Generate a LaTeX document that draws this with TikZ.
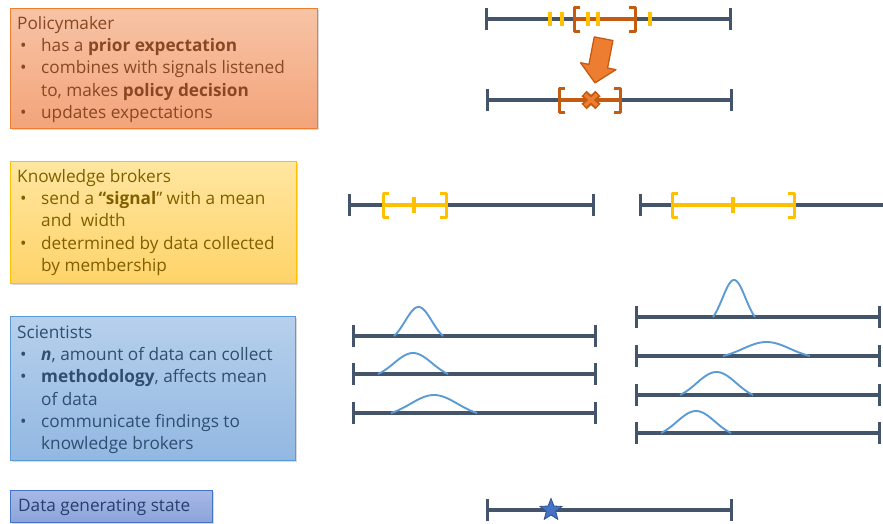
\documentclass[tikz,border=0pt]{standalone}
\usepackage{fontspec}
\setmainfont{Open Sans}
\usetikzlibrary{arrows.meta,shapes.geometric,shadows}

\definecolor{axisgray}{HTML}{44546A}
\definecolor{orangedark}{HTML}{C55A11}
\definecolor{orangemid}{HTML}{ED7D31}
\definecolor{gold}{HTML}{FFC000}
\definecolor{curveblue}{HTML}{5B9BD5}
\definecolor{starblue}{HTML}{4472C4}
\definecolor{stardark}{HTML}{2F528F}
\definecolor{pmtop}{HTML}{F7C4A6}
\definecolor{pmbot}{HTML}{F3A47A}
\definecolor{pmtext}{HTML}{8A4724}
\definecolor{kbtop}{HTML}{FFE6A0}
\definecolor{kbbot}{HTML}{FFD369}
\definecolor{kbtext}{HTML}{7F6000}
\definecolor{sctop}{HTML}{B7D0EC}
\definecolor{scbot}{HTML}{92B8E2}
\definecolor{sctext}{HTML}{2F4E70}
\definecolor{dgtop}{HTML}{A7B9E4}
\definecolor{dgbot}{HTML}{8DA3DA}
\definecolor{dgtext}{HTML}{263F6E}

\newcommand{\itm}{\makebox[24pt][l]{\hspace{3pt}\textbullet}}
\newcommand{\cnt}{\hspace*{24pt}}

\tikzset{
  box/.style={draw, line width=1pt, inner sep=0pt,
    drop shadow={opacity=0.3, shadow xshift=2pt, shadow yshift=-2pt}},
  pmbox/.style={box, draw=orangemid, top color=pmtop, bottom color=pmbot},
  kbbox/.style={box, draw=gold, top color=kbtop, bottom color=kbbot},
  scbox/.style={box, draw=curveblue, top color=sctop, bottom color=scbot},
  dgbox/.style={box, draw=starblue, top color=dgtop, bottom color=dgbot},
  boxtext/.style={anchor=north west, inner sep=0pt, align=left,
    font=\fontsize{17.2}{22.3}\selectfont},
  axis/.style={draw=axisgray, line width=3.2pt},
  ends/.style={axis, {Bar[width=22pt]}-{Bar[width=22pt]}},
  spanline/.style={line width=3.5pt},
  goldtick/.style={draw=gold, line width=4.2pt},
  bell/.style={draw=curveblue, line width=1.9pt},
  lbrk/.pic={\draw[pic actions, line width=3pt, line join=round] (6,-12) -- (0,-12) -- (0,12) -- (6,12);},
  rbrk/.pic={\draw[pic actions, line width=3pt, line join=round] (-6,-12) -- (0,-12) -- (0,12) -- (-6,12);}
}

\begin{document}
\begin{tikzpicture}[x=1pt, y=-1pt]
  \useasboundingbox (0,0) rectangle (883,523);

  % boxes on the left
  \node (pm) [pmbox, minimum width=307pt, minimum height=120pt] at (163.5,68) {};
  \node (kb) [kbbox, minimum width=286pt, minimum height=122pt] at (153,222) {};
  \node (sc) [scbox, minimum width=285pt, minimum height=144pt] at (152.5,388) {};
  \node (dg) [dgbox, minimum width=202pt, minimum height=32pt] at (111,506) {};

  \node (pmt) [boxtext, text=pmtext] at (17,16) {Policymaker\\
    \itm has a \textbf{prior expectation}\\
    \itm combines with signals listened\\
    \cnt to, makes \textbf{policy decision}\\
    \itm updates expectations};
  \node (kbt) [boxtext, text=kbtext] at (17,169) {Knowledge brokers\\
    \itm send a \textbf{“signal}” with a mean\\
    \cnt and\ \ width\\
    \itm determined by data collected\\
    \cnt by membership};
  \node (sct) [boxtext, text=sctext] at (17,325.5) {Scientists\\
    \itm \textbf{\textit{n}}, amount of data can collect\\
    \itm \textbf{methodology}, affects mean\\
    \cnt of data\\
    \itm communicate findings to\\
    \cnt knowledge brokers};
  \node (dgt) [anchor=base west, inner sep=0pt, text=dgtext,
    font=\fontsize{17.2}{20}\selectfont] at (18,511) {Data generating state};

  % policymaker: prior and decision
  \coordinate (pa) at (485,19);
  \coordinate (pb) at (732,19);
  \draw[ends] (pa) -- (pb);
  \foreach \x in {550,562,650}
    \draw[goldtick] (\x,12) -- (\x,26);
  \coordinate (pl) at (574,19);
  \coordinate (pr) at (635,19);
  \draw[orangedark, spanline] (pl) -- (pr);
  \draw[goldtick] (588,12) -- (588,26);
  \draw[goldtick] (598,12) -- (598,26);
  \pic[draw=orangedark] at (pl) {lbrk};
  \pic[draw=orangedark] at (pr) {rbrk};

  \begin{scope}[shift={(599.3,60.8)}, rotate=-101]
    \draw[orangedark, fill=orangemid, line width=1.3pt, line join=round]
      (-22.5,-9.5) -- (5.5,-9.5) -- (5.5,-18) -- (22.5,0) -- (5.5,18)
      -- (5.5,9.5) -- (-22.5,9.5) -- cycle;
  \end{scope}

  \coordinate (da) at (486,100);
  \coordinate (db) at (733,100);
  \coordinate (dl) at (559,100);
  \coordinate (dr) at (620,100);
  \draw[ends] (da) -- (db);
  \draw[orangedark, spanline] (dl) -- (dr);
  \pic[draw=orangedark] at (dl) {lbrk};
  \pic[draw=orangedark] at (dr) {rbrk};
  \draw[orangedark, line width=7.5pt] (584,93.5) -- (598,106.5) (584,106.5) -- (598,93.5);
  \draw[orangemid, line width=3.5pt] (585,94.5) -- (597,105.5) (585,105.5) -- (597,94.5);

  % knowledge brokers: signals
  \coordinate (ka) at (348,205);
  \coordinate (kb1) at (595,205);
  \draw[ends] (ka) -- (kb1);
  \coordinate (kl) at (383,205);
  \coordinate (kr) at (446,205);
  \draw[gold, spanline] (kl) -- (kr);
  \draw[gold, line width=3.5pt] (414,197) -- (414,213);
  \pic[draw=gold] at (kl) {lbrk};
  \pic[draw=gold] at (kr) {rbrk};

  \coordinate (ja) at (639,205);
  \coordinate (jb) at (884,205);
  \draw[axis, {Bar[width=22pt]}-] (ja) -- (jb);
  \coordinate (jl) at (672,205);
  \coordinate (jr) at (794,205);
  \draw[gold, spanline] (jl) -- (jr);
  \draw[gold, line width=3.5pt] (733,197) -- (733,213);
  \pic[draw=gold] at (jl) {lbrk};
  \pic[draw=gold] at (jr) {rbrk};

  % scientists: data collected
  \foreach \y in {336,374,413}
    \draw[ends] (352,\y) -- (597,\y);
  \foreach \y in {317,356,395,433}
    \draw[ends] (635,\y) -- (881,\y);
  \foreach \a/\b/\l/\h in {394/443/336/29, 378/448/374/21,
      391/477/413/18, 713/755/317/37, 723/810/356/14,
      680/753/395/23, 661/731/433/22}
    \draw[bell] plot[domain=\a:\b, samples=40, smooth]
      (\x, {\l - \h*(exp(-((\x-(\a+\b)/2)/((\b-\a)/2.6))^2) - 0.1845)/0.8155});

  % data generating state
  \coordinate (ta) at (486,510);
  \coordinate (tb) at (733,510);
  \draw[ends] (ta) -- (tb);
  \node (truth) [star, star points=5, star point ratio=2.3, minimum size=23pt,
    inner sep=0pt, fill=starblue, draw=stardark, line width=0.8pt] at (551,510) {};
\end{tikzpicture}
\end{document}
